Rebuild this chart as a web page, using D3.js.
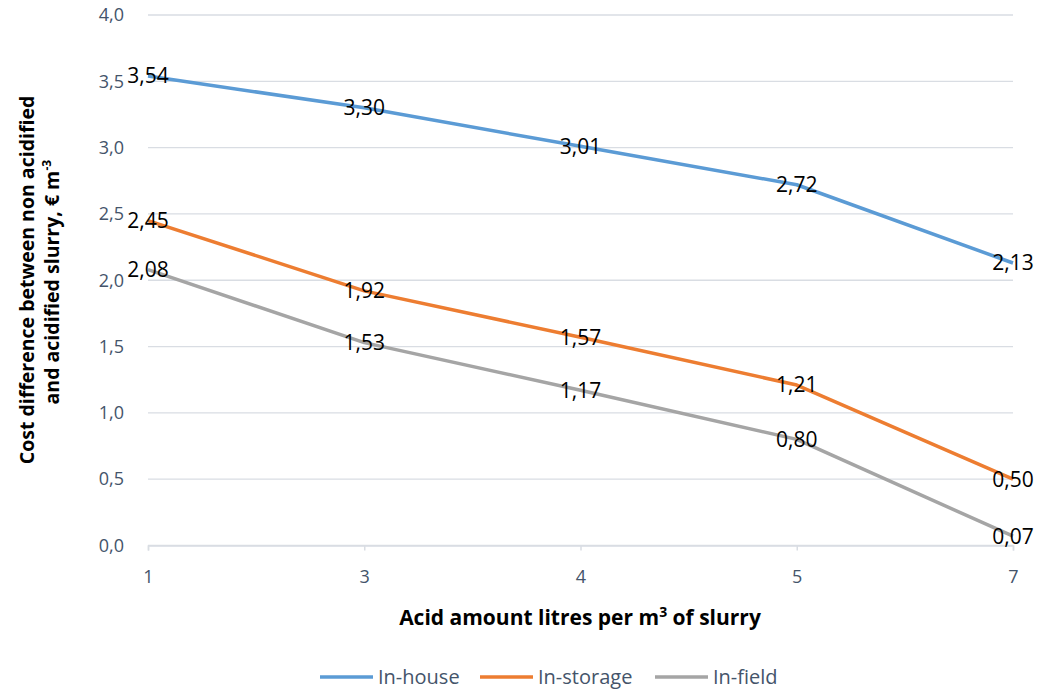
<!DOCTYPE html>
<html>
<head>
<meta charset="utf-8">
<script src="https://cdn.jsdelivr.net/npm/d3@7"></script>
<style>
  body { margin: 0; background: #fff; }
  svg text { font-family: "Open Sans", "Noto Sans", sans-serif; }
</style>
</head>
<body>
<div class="lineChart"></div>
<script>
var categories = ["1", "3", "4", "5", "7"];
var inHouse   = [3.54, 3.30, 3.01, 2.72, 2.13];
var inStorage = [2.45, 1.92, 1.57, 1.21, 0.50];
var inField   = [2.08, 1.53, 1.17, 0.80, 0.07];
var seriesNames = ["In-house", "In-storage", "In-field"];
var yTicks = [0, 0.5, 1, 1.5, 2, 2.5, 3, 3.5, 4];

var colors = ["#5B9BD5", "#ED7D31", "#A5A5A5"];
var series = [inHouse, inStorage, inField];

var width = 1040, height = 691,
    plotLeft = 148, plotRight = 1013, plotTop = 15, plotBottom = 545.5;

var fmt = function(v, d) { return v.toFixed(d).replace(".", ","); };

var svg = d3.select(".lineChart").append("svg")
    .attr("width", width)
    .attr("height", height);

var x = d3.scalePoint().domain(categories).range([plotLeft, plotRight]);
var y = d3.scaleLinear().domain([0, 4]).range([plotBottom, plotTop]);

// gridlines
svg.append("g").selectAll("line")
    .data(yTicks)
    .enter().append("line")
    .attr("x1", plotLeft).attr("x2", plotRight)
    .attr("y1", function(d) { return y(d); })
    .attr("y2", function(d) { return y(d); })
    .attr("stroke", "#D9DDE3")
    .attr("stroke-width", 1.3);

// y tick labels
svg.append("g").selectAll("text")
    .data(yTicks)
    .enter().append("text")
    .attr("x", 124)
    .attr("y", function(d) { return y(d); })
    .attr("dy", "0.35em")
    .attr("text-anchor", "end")
    .style("font-size", "18px")
    .attr("fill", "#44546A")
    .text(function(d) { return fmt(d, 1); });

// x axis
var xAxis = d3.axisBottom(x).tickSize(5).tickPadding(20);
var gx = svg.append("g")
    .attr("transform", "translate(0," + plotBottom + ")")
    .call(xAxis);
gx.select(".domain").attr("stroke", "#D9DDE3").attr("stroke-width", 1.5);
gx.selectAll(".tick line").attr("stroke", "#D9DDE3").attr("stroke-width", 1.5);
gx.selectAll(".tick text")
    .style("font-size", "18px")
    .style("font-family", "'Open Sans', sans-serif")
    .attr("fill", "#44546A");

// lines
var line = d3.line()
    .x(function(d, i) { return x(categories[i]); })
    .y(function(d) { return y(d); });

svg.append("g").selectAll("path")
    .data(series)
    .enter().append("path")
    .attr("d", line)
    .attr("fill", "none")
    .attr("stroke", function(d, i) { return colors[i]; })
    .attr("stroke-width", 3.5)
    .attr("stroke-linejoin", "round");

// data labels
series.forEach(function(s) {
  svg.append("g").selectAll("text")
    .data(s)
    .enter().append("text")
    .attr("x", function(d, i) { return x(categories[i]); })
    .attr("y", function(d) { return y(d); })
    .attr("dy", "0.35em")
    .attr("text-anchor", "middle")
    .style("font-size", "21px")
    .attr("fill", "#000")
    .text(function(d) { return fmt(d, 2); });
});

// axis titles
var xt = svg.append("text")
    .attr("x", 580)
    .attr("y", 625)
    .attr("text-anchor", "middle")
    .style("font-size", "21px")
    .style("font-weight", "bold")
    .attr("fill", "#000");
xt.append("tspan").text("Acid amount litres per m");
xt.append("tspan").attr("dy", "-8").style("font-size", "14px").text("3");
xt.append("tspan").attr("dy", "8").text(" of slurry");

var yt = svg.append("text")
    .attr("transform", "translate(0,280) rotate(-90)")
    .attr("text-anchor", "middle")
    .style("font-size", "19.5px")
    .style("font-weight", "bold")
    .attr("fill", "#000");
yt.append("tspan").attr("x", 0).attr("y", 34).text("Cost difference between non acidified");
yt.append("tspan").attr("x", 0).attr("y", 59).text("and acidified slurry, € m\u00a0\u00a0\u00a0");
yt.append("tspan").attr("dx", "-15").attr("dy", "-8").style("font-size", "12px").text("-3");

// legend
var legendX = [320, 480, 655];
var legend = svg.append("g").selectAll("g")
    .data(seriesNames)
    .enter().append("g")
    .attr("transform", function(d, i) { return "translate(" + legendX[i] + ",677)"; });
legend.append("line")
    .attr("x1", 0).attr("x2", 53)
    .attr("stroke", function(d, i) { return colors[i]; })
    .attr("stroke-width", 3.5);
legend.append("text")
    .attr("x", 58)
    .attr("dy", "0.35em")
    .style("font-size", "20px")
    .attr("fill", "#44546A")
    .text(function(d) { return d; });
</script>
</body>
</html>
